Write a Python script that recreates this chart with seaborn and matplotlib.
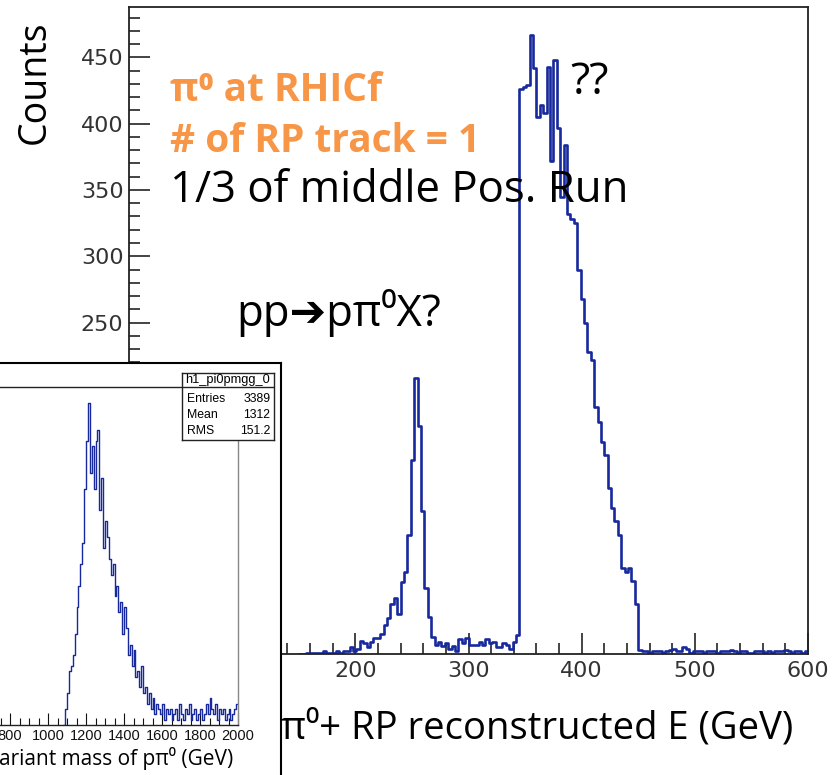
import numpy as np
import pandas as pd
import matplotlib
matplotlib.use("Agg")
import matplotlib.pyplot as plt
import seaborn as sns
from matplotlib.ticker import MultipleLocator, FixedLocator

# main histogram: pi0 + RP reconstructed energy, 3 GeV bins from 150 GeV
e_start = 150
e_width = 3
e_counts = [
    0, 0, 1, 1, 1, 1, 1, 2, 1, 1,            # 150-177
    1, 2, 1, 2, 2, 5, 2, 4, 10, 8,           # 180-207
    5, 9, 12, 12, 15, 22, 27, 38, 42, 30,    # 210-237
    54, 62, 90, 146, 208, 172, 108, 50, 28, 13,  # 240-267
    7, 9, 6, 8, 4, 6, 2, 11, 8, 12,          # 270-297
    7, 7, 7, 9, 7, 11, 8, 9, 5, 5,           # 300-327
    8, 7, 4, 9, 14, 426, 428, 429, 467, 442,  # 330-357
    405, 414, 408, 443, 372, 448, 397, 345, 384, 332,  # 360-387
    328, 325, 290, 268, 250, 228, 222, 186, 175, 160,  # 390-417
    150, 125, 110, 100, 90, 65, 62, 65, 55, 38,  # 420-447
    3, 2, 2, 1, 2, 2, 2, 1, 2, 3,            # 450-477
    4, 2, 2, 5, 4, 1, 2, 2, 2, 1,            # 480-507
    2, 2, 2, 1, 2, 2, 2, 3, 2, 1,            # 510-537
    2, 2, 1, 1, 2, 2, 2, 1, 2, 1,            # 540-567
    2, 2, 2, 3, 2, 1, 2, 2, 1, 2,            # 570-597
]

# inset: invariant mass of p pi0, 10 GeV bins from 1080 GeV
m_start = 1080
m_width = 10
m_counts = [
    0, 3, 6, 10, 11, 13, 17, 22, 26, 30,
    34, 44, 53, 60, 47, 52, 44, 53, 55, 40,
    46, 33, 38, 35, 31, 28, 30, 24, 26, 21,
    23, 17, 22, 18, 13, 15, 11, 14, 9, 10,
    7, 11, 6, 7, 4, 6, 3, 5, 2, 4,
    3, 2, 4, 1, 3, 2, 3, 1, 2, 3,
    1, 4, 2, 1, 3, 2, 4, 1, 2, 3,
    1, 2, 3, 1, 2, 4, 2, 5, 3, 2,
    4, 1, 3, 2, 3, 1, 2, 3, 1, 2,
    3, 4,
]
m_ticks = [800, 1000, 1200, 1400, 1600, 1800, 2000]

stats_name = "h1_pi0pmgg_0"
stats_labels = ["Entries", "Mean", "RMS"]
stats_values = ["3389", "1312", "151.2"]

W, H = 834, 775
blue = "#17299c"
orange = "#F79646"
txt_font = ["Open Sans", "Noto Sans", "DejaVu Sans"]


def box(x0, y0, x1, y1):
    # pixel box (from top-left) -> figure fraction
    return [x0 / W, 1 - y1 / H, (x1 - x0) / W, (y1 - y0) / H]


sns.set_style("ticks")
plt.rcParams["font.family"] = ["DejaVu Sans"]

fig = plt.figure(figsize=(W / 100, H / 100), dpi=100)

# ---- main histogram ----
ax = fig.add_axes(box(129, 7, 808, 654))
e_mid = e_start + e_width * np.arange(len(e_counts)) + e_width / 2
df_e = pd.DataFrame({"E": e_mid, "n": e_counts})
e_range = (e_start, e_start + e_width * len(e_counts))
sns.histplot(data=df_e, x="E", weights="n", binwidth=e_width, binrange=e_range,
             element="step", fill=False, color=blue, linewidth=1.9, ax=ax)
ax.set_xlim(0, 600)
ax.set_ylim(0, 1.045 * max(e_counts))
ax.set_xlabel("")
ax.set_ylabel("")
ax.xaxis.set_major_locator(MultipleLocator(100))
ax.xaxis.set_minor_locator(MultipleLocator(20))
ax.yaxis.set_major_locator(MultipleLocator(50))
ax.yaxis.set_minor_locator(MultipleLocator(10))
ax.tick_params(which="both", direction="in", top=False, right=False,
               colors="#111111", width=1.1)
ax.tick_params(which="major", length=15, labelsize=16, labelcolor="#333333")
ax.tick_params(which="minor", length=8)
ax.tick_params(axis="x", which="major", pad=5)
ax.tick_params(axis="y", which="major", pad=4)
for s in ax.spines.values():
    s.set_visible(True)
    s.set_linewidth(1.3)
    s.set_color("#222222")

fig.text(35 / W, 1 - 20 / H, "Counts", rotation=90, ha="center", va="top",
         fontsize=27, family=txt_font, color="black")
fig.text(793 / W, 1 - 739 / H, "π⁰+ RP reconstructed E (GeV)", ha="right",
         va="baseline", fontsize=27.5, family=txt_font, color="black")

fig.text(170 / W, 1 - 101 / H, "π⁰ at RHICf", ha="left", va="baseline",
         fontsize=28, fontweight="bold", color=orange, family=txt_font)
fig.text(170 / W, 1 - 152 / H, "# of RP track = 1", ha="left", va="baseline",
         fontsize=28, fontweight="bold", color=orange, family=txt_font)
fig.text(170 / W, 1 - 202 / H, "1/3 of middle Pos. Run", ha="left",
         va="baseline", fontsize=31.5, family=txt_font, color="black")
fig.text(236 / W, 1 - 326 / H, "pp➔pπ⁰X?", ha="left", va="baseline",
         fontsize=31.5, family=txt_font, color="black")
fig.text(570 / W, 1 - 94 / H, "??", ha="left", va="baseline",
         fontsize=32, family=txt_font, color="black")

# ---- inset pad ----
pad = fig.add_axes(box(-10, 363, 281, 790))
pad.set_xticks([])
pad.set_yticks([])
pad.set_facecolor("white")
for s in pad.spines.values():
    s.set_color("black")
    s.set_linewidth(1.5)

# ---- inset histogram ----
ins = fig.add_axes(box(-142, 387, 238, 725))
m_mid = m_start + m_width * np.arange(len(m_counts)) + m_width / 2
df_m = pd.DataFrame({"M": m_mid, "n": m_counts})
m_range = (m_start, m_start + m_width * len(m_counts))
sns.histplot(data=df_m, x="M", weights="n", binwidth=m_width, binrange=m_range,
             element="step", fill=False, color=blue, linewidth=1.0, ax=ins)
ins.set_xlim(0, 2000)
ins.set_ylim(0, 1.05 * max(m_counts))
ins.set_xlabel("")
ins.set_ylabel("")
ins.set_yticks([])
ins.xaxis.set_major_locator(FixedLocator(m_ticks))
ins.xaxis.set_minor_locator(MultipleLocator(50))
ins.tick_params(which="both", direction="in", top=False, right=False,
                colors="#111111", width=0.8)
ins.tick_params(which="major", length=9, labelsize=10.5, pad=3)
ins.tick_params(which="minor", length=5)
for lab in ins.get_xticklabels():
    lab.set_family(["Liberation Sans", "DejaVu Sans"])
for s in ins.spines.values():
    s.set_linewidth(1.0)
    s.set_color("#222222")
ins.spines["right"].set_color("#888888")
fig.text(233 / W, 1 - 765 / H, "Invariant mass of pπ⁰ (GeV)", ha="right",
         va="baseline", fontsize=15, family=txt_font, color="black")

# ---- stats box ----
st = fig.add_axes(box(182, 373, 274, 440))
st.set_xlim(0, 1)
st.set_ylim(0, 1)
st.set_xticks([])
st.set_yticks([])
st.set_facecolor("white")
for s in st.spines.values():
    s.set_color("#222222")
    s.set_linewidth(1.0)
st.axhline(0.79, color="#222222", lw=1.0)
sfont = ["Liberation Sans", "DejaVu Sans"]
st.text(0.5, 0.895, stats_name, ha="center", va="center", fontsize=9.2,
        family=sfont, color="black")
for i, (lab, val) in enumerate(zip(stats_labels, stats_values)):
    yy = 0.612 - i * 0.239
    st.text(0.05, yy, lab, ha="left", va="center", fontsize=8.8, family=sfont,
            color="black")
    st.text(0.96, yy, val, ha="right", va="center", fontsize=8.8, family=sfont,
            color="black")

fig.savefig("out.png", dpi=100)
